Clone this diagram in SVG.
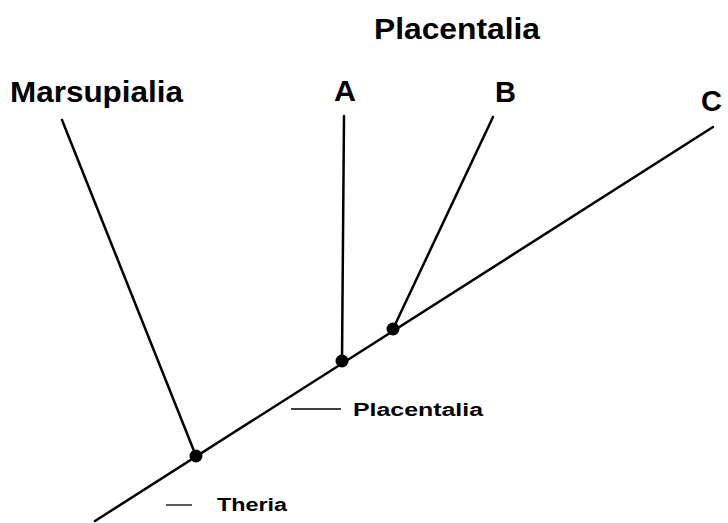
<svg xmlns="http://www.w3.org/2000/svg" width="728" height="523" viewBox="0 0 728 523">
<style>
.big{font-family:"Liberation Sans",Arial,sans-serif;font-weight:bold;font-size:29px;fill:#000}
.small{font-family:"Liberation Sans",Arial,sans-serif;font-weight:bold;font-size:18px;fill:#000}
.ln{stroke:#000;stroke-width:2.5;fill:none;stroke-linecap:round}
.tick{stroke:#000;stroke-width:1.3}
</style>
<rect width="728" height="523" fill="#fff"/>
<g id="connectors">
<line class="ln" x1="95" y1="521" x2="713" y2="127"/>
<line class="ln" x1="62" y1="120" x2="196" y2="456"/>
<line class="ln" x1="344" y1="116" x2="342" y2="361"/>
<line class="ln" x1="493" y1="117" x2="393" y2="329"/>
</g>
<g id="node-theria"><circle cx="196" cy="456" r="6.5"/></g>
<g id="node-placentalia"><circle cx="342" cy="361" r="6.5"/></g>
<g id="node-bc"><circle cx="393" cy="329" r="6.5"/></g>
<g id="labels">
<text class="big" x="374" y="39" textLength="166" lengthAdjust="spacingAndGlyphs">Placentalia</text>
<text class="big" x="10" y="102" textLength="173" lengthAdjust="spacingAndGlyphs">Marsupialia</text>
<text class="big" x="334" y="101" textLength="22" lengthAdjust="spacingAndGlyphs">A</text>
<text class="big" x="495" y="102" textLength="21" lengthAdjust="spacingAndGlyphs">B</text>
<text class="big" x="701" y="111" textLength="21" lengthAdjust="spacingAndGlyphs">C</text>
<line class="tick" x1="291" y1="409" x2="341" y2="409"/>
<text class="small" x="353" y="416" textLength="130" lengthAdjust="spacingAndGlyphs">Placentalia</text>
<line class="tick" x1="166" y1="505" x2="192" y2="505"/>
<text class="small" x="217" y="511" textLength="70" lengthAdjust="spacingAndGlyphs">Theria</text>
</g>
</svg>
